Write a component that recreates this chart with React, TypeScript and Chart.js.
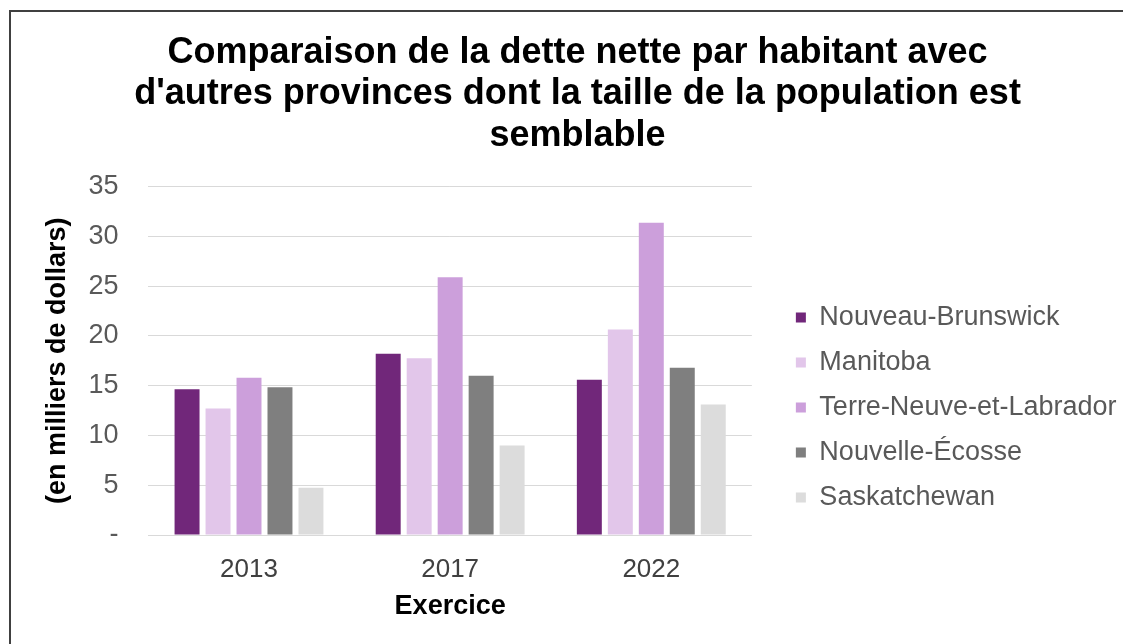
import React, { useEffect, useRef } from "react";
import { Chart, registerables } from "chart.js";

Chart.register(...registerables);

const categories = ["2013", "2017", "2022"];
const titleLines = [
  "Comparaison de la dette nette par habitant avec",
  "d'autres provinces dont la taille de la population est",
  "semblable",
];
const seriesNames = [
  "Nouveau-Brunswick",
  "Manitoba",
  "Terre-Neuve-et-Labrador",
  "Nouvelle-Écosse",
  "Saskatchewan",
];
const nouveauBrunswick = [14.65, 18.2, 15.6];
const manitoba = [12.7, 17.75, 20.65];
const terreNeuve = [15.8, 25.9, 31.35];
const nouvelleEcosse = [14.85, 16.0, 16.8];
const saskatchewan = [4.75, 9.0, 13.1];
const seriesColors = ["#71277a", "#e2c6ea", "#cc9fdb", "#7f7f7f", "#dcdcdc"];
const yTicks = [0, 5, 10, 15, 20, 25, 30, 35];

const FONT = "'Liberation Sans', Arial, sans-serif";

export default function App() {
  const ref = useRef<HTMLCanvasElement | null>(null);

  useEffect(() => {
    document.body.style.margin = "0";
    const values = [nouveauBrunswick, manitoba, terreNeuve, nouvelleEcosse, saskatchewan];
    const chart = new Chart(ref.current as HTMLCanvasElement, {
      type: "bar",
      data: {
        labels: categories,
        datasets: seriesNames.map((name, i) => ({
          label: name,
          data: values[i],
          backgroundColor: seriesColors[i],
          borderWidth: 0,
          barPercentage: 0.806,
          categoryPercentage: 0.77,
        })),
      },
      options: {
        animation: false,
        responsive: false,
        maintainAspectRatio: false,
        layout: { padding: { left: 28.5, right: -3.5, top: 32, bottom: 21 } },
        plugins: {
          title: {
            display: true,
            text: titleLines,
            color: "#000000",
            font: { family: FONT, size: 36, weight: "bold", lineHeight: 1.153 },
            padding: { top: 0, bottom: 30 },
          },
          legend: {
            position: "right",
            align: "center",
            maxWidth: 420,
            title: { display: true, text: "", font: { size: 10, lineHeight: 1.2 }, padding: { top: 76, bottom: 72 } },
            labels: {
              boxWidth: 10,
              boxHeight: 10,
              padding: 18,
              color: "#595959",
              font: { family: FONT, size: 27 },
            },
          },
          tooltip: { enabled: false },
        },
        scales: {
          x: {
            grid: { display: false, drawTicks: false },
            border: { display: false },
            ticks: { color: "#404040", font: { family: FONT, size: 26 }, padding: 19 },
            title: {
              display: true,
              text: "Exercice",
              color: "#000000",
              font: { family: FONT, size: 27, weight: "bold" },
              padding: { top: -13.6, bottom: 0 },
            },
          },
          y: {
            min: 0,
            max: 35,
            afterBuildTicks: (axis: any) => {
              axis.ticks = yTicks.map((v) => ({ value: v }));
            },
            grid: { color: "#d9d9d9", lineWidth: 1, drawTicks: false },
            border: { display: false },
            ticks: {
              color: "#595959",
              font: { family: FONT, size: 27 },
              padding: 30,
              callback: (v: any) => (Number(v) === 0 ? "-" : String(v)),
            },
            title: {
              display: true,
              text: "(en milliers de dollars)",
              color: "#000000",
              font: { family: FONT, size: 27, weight: "bold" },
              padding: { top: 12.5, bottom: -15 },
            },
          },
          gap: {
            type: "linear",
            position: "right",
            display: true,
            grid: { display: false, drawTicks: false },
            border: { display: false },
            ticks: { display: false },
            afterFit: (s: any) => {
              s.width = 26;
            },
          },
        },
      },
    } as any);
    return () => chart.destroy();
  }, []);

  return (
    <div style={{ position: "relative", width: 1123, height: 644, overflow: "hidden", background: "#fff" }}>
      <canvas ref={ref} width={1123} height={644} style={{ display: "block" }} />
      <div
        style={{
          position: "absolute",
          left: 9,
          top: 10,
          width: 1200,
          height: 700,
          borderLeft: "2px solid #404040",
          borderTop: "2px solid #404040",
          pointerEvents: "none",
        }}
      />
    </div>
  );
}
